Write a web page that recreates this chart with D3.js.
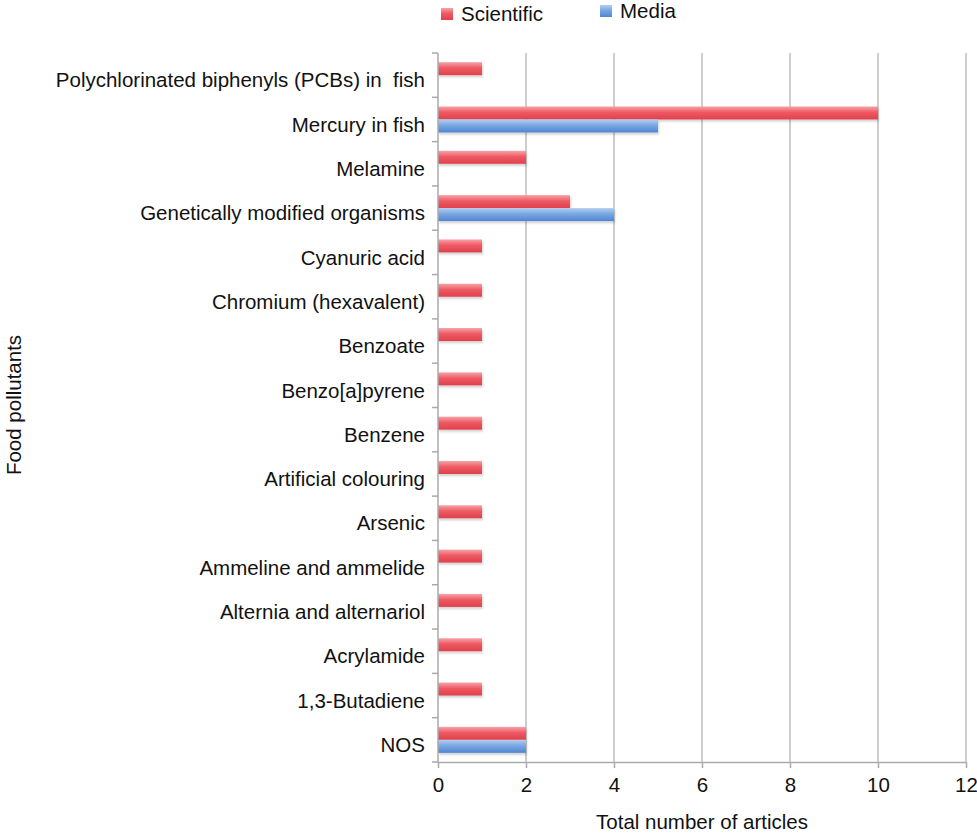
<!DOCTYPE html>
<html lang="en">
<head>
<meta charset="UTF-8">
<title>Food pollutants</title>
<script src="https://cdn.jsdelivr.net/npm/d3@7"></script>
<style>
    body { margin: 0; background: #fff; }
    text { font-family: "Liberation Sans", Arial, sans-serif; fill: #111; }
</style>
</head>
<body>
<div id="chart"></div>
<script>
var categories = [
    "Polychlorinated biphenyls (PCBs) in  fish",
    "Mercury in fish",
    "Melamine",
    "Genetically modified organisms",
    "Cyanuric acid",
    "Chromium (hexavalent)",
    "Benzoate",
    "Benzo[a]pyrene",
    "Benzene",
    "Artificial colouring",
    "Arsenic",
    "Ammeline and ammelide",
    "Alternia and alternariol",
    "Acrylamide",
    "1,3-Butadiene",
    "NOS"
];
var scientific = [1, 10, 2, 3, 1, 1, 1, 1, 1, 1, 1, 1, 1, 1, 1, 2];
var media      = [0, 5, 0, 4, 0, 0, 0, 0, 0, 0, 0, 0, 0, 0, 0, 2];
var seriesNames = ["Scientific", "Media"];
var xTicks = [0, 2, 4, 6, 8, 10, 12];

var width = 977, height = 834;
var margin = {left: 438, right: 11, top: 53, bottom: 72};
var fs = '20.5px';

var svg = d3.select('#chart').append('svg').attr('width', width).attr('height', height);

var defs = svg.append('defs');
function grad(id, top, mid, bottom) {
    var g = defs.append('linearGradient').attr('id', id)
        .attr('x1', 0).attr('y1', 0).attr('x2', 0).attr('y2', 1);
    g.append('stop').attr('offset', '0%').attr('stop-color', top);
    g.append('stop').attr('offset', '45%').attr('stop-color', mid);
    g.append('stop').attr('offset', '100%').attr('stop-color', bottom);
}
grad('gRed', '#f7a3a8', '#ee5a63', '#e0404b');
grad('gBlue', '#b3cdf0', '#7aa7e3', '#4f86d2');
var shadow = defs.append('filter').attr('id', 'shadow').attr('x', '-5%').attr('y', '-30%').attr('width', '110%').attr('height', '180%');
shadow.append('feDropShadow').attr('dx', 1).attr('dy', 2).attr('stdDeviation', 1.2)
    .attr('flood-color', '#000').attr('flood-opacity', 0.18);

var x = d3.scaleLinear().domain([0, 12]).range([margin.left, width - margin.right]);
var y = d3.scaleBand().domain(categories).range([margin.top, height - margin.bottom]);
var sub = d3.scaleBand().domain(seriesNames).range([y.bandwidth() / 2 - 13, y.bandwidth() / 2 + 13]);

// grid lines
svg.append('g').selectAll('line').data(xTicks.slice(1)).enter().append('line')
    .attr('x1', function(d){ return x(d); }).attr('x2', function(d){ return x(d); })
    .attr('y1', margin.top).attr('y2', height - margin.bottom)
    .attr('stroke', '#bdbdbd').attr('stroke-width', 1.5);

// bars
var rows = categories.map(function(c, i){ return {cat: c, s: scientific[i], m: media[i]}; });
var groups = svg.append('g').selectAll('g').data(rows).enter().append('g')
    .attr('transform', function(d){ return 'translate(0,' + y(d.cat) + ')'; });
groups.filter(function(d){ return d.s > 0; }).append('rect')
    .attr('x', x(0)).attr('y', sub('Scientific'))
    .attr('width', function(d){ return x(d.s) - x(0); })
    .attr('height', sub.bandwidth())
    .attr('fill', 'url(#gRed)').attr('filter', 'url(#shadow)');
groups.filter(function(d){ return d.m > 0; }).append('rect')
    .attr('x', x(0)).attr('y', sub('Media'))
    .attr('width', function(d){ return x(d.m) - x(0); })
    .attr('height', sub.bandwidth())
    .attr('fill', 'url(#gBlue)').attr('filter', 'url(#shadow)');

// x axis
var xAxis = svg.append('g').attr('transform', 'translate(0,' + (height - margin.bottom) + ')')
    .call(d3.axisBottom(x).tickValues(xTicks).tickSize(6).tickPadding(9).tickSizeOuter(0));
xAxis.select('.domain').attr('stroke', '#aaa').attr('stroke-width', 1.5);
xAxis.selectAll('.tick line').attr('stroke', '#aaa').attr('stroke-width', 1.5);
xAxis.selectAll('text').style('font-size', fs).style('font-family', '"Liberation Sans", Arial, sans-serif').attr('fill', '#111');

// y axis: ticks at category boundaries
var yAxis = svg.append('g').attr('transform', 'translate(' + margin.left + ',0)');
yAxis.append('line').attr('x1', 0).attr('x2', 0)
    .attr('y1', margin.top).attr('y2', height - margin.bottom)
    .attr('stroke', '#aaa').attr('stroke-width', 1.5);
var bounds = categories.map(function(c){ return y(c); }).concat([height - margin.bottom]);
yAxis.selectAll('line.b').data(bounds).enter().append('line').attr('class', 'b')
    .attr('x1', -6).attr('x2', 0)
    .attr('y1', function(d){ return d; }).attr('y2', function(d){ return d; })
    .attr('stroke', '#aaa').attr('stroke-width', 1.5);
yAxis.selectAll('text').data(categories).enter().append('text')
    .attr('x', -13).attr('y', function(d){ return y(d) + y.bandwidth() / 2 + 5; })
    .attr('dy', '0.35em').attr('text-anchor', 'end')
    .style('font-size', fs).style('white-space', 'pre')
    .text(function(d){ return d; });

// axis titles
svg.append('text').attr('x', (x(0) + x(12)) / 2).attr('y', 829)
    .attr('text-anchor', 'middle').style('font-size', fs)
    .text('Total number of articles');
svg.append('text').attr('transform', 'translate(21,405) rotate(-90)')
    .attr('text-anchor', 'middle').style('font-size', fs)
    .text('Food pollutants');

// legend
var legend = svg.append('g');
var legendItems = [{name: 'Scientific', fill: 'url(#gRed)', x: 441, y: 8}, {name: 'Media', fill: 'url(#gBlue)', x: 600, y: 5}];
legend.selectAll('rect').data(legendItems).enter().append('rect')
    .attr('x', function(d){ return d.x; }).attr('y', function(d){ return d.y; })
    .attr('width', 12).attr('height', 12).attr('fill', function(d){ return d.fill; });
legend.selectAll('text').data(legendItems).enter().append('text')
    .attr('x', function(d){ return d.x + 20; }).attr('y', function(d){ return d.y + 13; })
    .style('font-size', fs).text(function(d){ return d.name; });
</script>
</body>
</html>
